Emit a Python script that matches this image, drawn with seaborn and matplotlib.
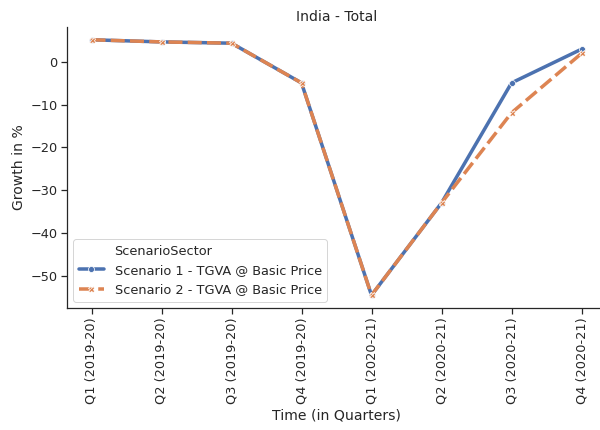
import pandas as pd
import matplotlib.pyplot as plt
import matplotlib.lines as mlines
import seaborn as sns

sns.set_theme(style="ticks", palette="deep", font_scale=1.17)

quarters = ["Q1 (2019-20)", "Q2 (2019-20)", "Q3 (2019-20)", "Q4 (2019-20)",
            "Q1 (2020-21)", "Q2 (2020-21)", "Q3 (2020-21)", "Q4 (2020-21)"]
scenario1 = [5.2, 4.7, 4.4, -4.9, -54.6, -33.0, -4.9, 3.0]
scenario2 = [5.2, 4.7, 4.4, -4.9, -54.6, -33.0, -11.9, 2.0]
names = ["Scenario 1 - TGVA @ Basic Price", "Scenario 2 - TGVA @ Basic Price"]

df = pd.DataFrame({
    "Time": quarters * 2,
    "Growth": scenario1 + scenario2,
    "ScenarioSector": [names[0]] * len(quarters) + [names[1]] * len(quarters),
})

fig = plt.figure(figsize=(600 / 72, 430 / 72), dpi=72)
ax = fig.add_axes([67 / 600, 1 - 308 / 430, 539 / 600, 281 / 430])
sns.lineplot(data=df, x="Time", y="Growth", hue="ScenarioSector",
             style="ScenarioSector", markers=True, linewidth=3.5, ax=ax)
sns.despine()
ax.set_title("India - Total")
ax.set_xlabel("Time (in Quarters)")
ax.set_ylabel("Growth in %")
plt.setp(ax.get_xticklabels(), rotation=90)

# old-style legend: title shown as a blank entry
handles, labels = ax.get_legend_handles_labels()
blank = mlines.Line2D([], [], color="none")
ax.legend([blank] + handles, ["ScenarioSector"] + labels, loc="lower left",
          handlelength=2.0)
fig.savefig("out.png", dpi=72)
